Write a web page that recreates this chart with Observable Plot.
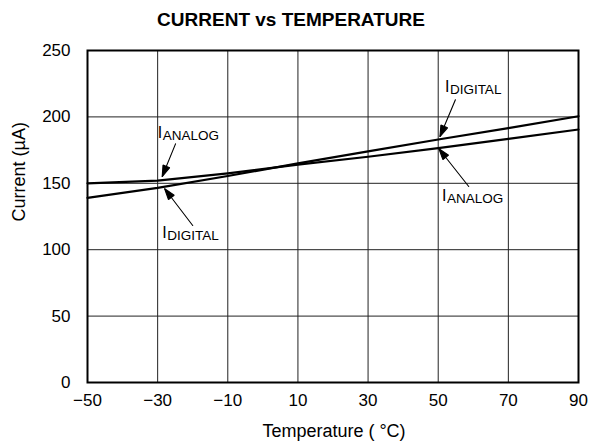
<!DOCTYPE html>
<html>
<head>
<meta charset="utf-8">
<script src="https://cdn.jsdelivr.net/npm/d3@7"></script>
<script src="https://cdn.jsdelivr.net/npm/@observablehq/plot@0.6"></script>
<style>
  html, body { margin: 0; padding: 0; background: #fff; }
  #chart { width: 590px; height: 445px; }
</style>
</head>
<body>
<div id="chart"></div>
<script>
// ---- data ----
const temperatures = [-50, -30, -10, 10, 30, 50, 70, 90];
const iAnalog  = [150, 152, 157.5, 164, 170, 176.5, 183.5, 190.5];
const iDigital = [139, 146.5, 155.5, 165, 174, 183, 191.5, 200.5];

const xTicks = [-50, -30, -10, 10, 30, 50, 70, 90];
const yTicks = [0, 50, 100, 150, 200, 250];

// annotation labels ("I" + subscript) and arrows (tail -> tip)
const labelMain = ["I", "I", "I", "I"];
const labelSub  = ["ANALOG", "DIGITAL", "DIGITAL", "ANALOG"];
const labelX    = [-30.0, -28.7, 51.9, 51.1];
const labelY    = [184.3, 109.0, 219.1, 137.0];

const arrowX1 = [-24.9, -20.0, 54.9, 58.7];
const arrowY1 = [179.7, 118.2, 212.9, 147.6];
const arrowX2 = [-28.7, -28.0, 50.5, 50.2];
const arrowY2 = [155.1, 145.9, 185.2, 176.0];

const titleText = "CURRENT vs TEMPERATURE";
const xLabel = "Temperature ( °C)";
const yLabel = "Current (µA)";

// ---- tables built from the arrays ----
const series = [
  ...temperatures.map((t, i) => ({t, v: iAnalog[i], s: "analog"})),
  ...temperatures.map((t, i) => ({t, v: iDigital[i], s: "digital"}))
];
const labels = labelMain.map((m, i) => ({m, sub: labelSub[i], x: labelX[i], y: labelY[i]}));
const arrows = arrowX1.map((x1, i) => ({x1, y1: arrowY1[i], x2: arrowX2[i], y2: arrowY2[i]}));

const font = "Arial, 'Liberation Sans', Helvetica, sans-serif";

function filledHeads(index, scales, values, dimensions, context, next) {
  const g = next(index, scales, values, dimensions, context);
  const L = 11, W = 3.6;
  for (const i of index) {
    const x1 = values.x1[i], y1 = values.y1[i], x2 = values.x2[i], y2 = values.y2[i];
    const dx = x2 - x1, dy = y2 - y1, len = Math.hypot(dx, dy);
    const ux = dx / len, uy = dy / len;
    const bx = x2 - ux * L, by = y2 - uy * L;
    const p = document.createElementNS("http://www.w3.org/2000/svg", "polygon");
    p.setAttribute("points", `${x2},${y2} ${bx - uy * W},${by + ux * W} ${bx + uy * W},${by - ux * W}`);
    p.setAttribute("fill", "black");
    g.appendChild(p);
  }
  return g;
}

const chart = Plot.plot({
  width: 590,
  height: 445,
  marginLeft: 87,
  marginRight: 12,
  marginTop: 50,
  marginBottom: 63,
  style: {fontFamily: font, background: "white", color: "black"},
  x: {domain: [-50, 90], ticks: xTicks},
  y: {domain: [0, 250], ticks: yTicks},
  marks: [
    Plot.gridX(xTicks, {stroke: "#222", strokeOpacity: 1, strokeWidth: 1}),
    Plot.gridY(yTicks, {stroke: "#222", strokeOpacity: 1, strokeWidth: 1}),
    Plot.axisX(xTicks, {tickSize: 0, tickPadding: 11, fontSize: 17, label: null}),
    Plot.axisY(yTicks, {tickSize: 0, tickPadding: 17, fontSize: 17, label: null}),
    Plot.line(series, {x: "t", y: "v", z: "s", stroke: "black", strokeWidth: 2.2}),
    Plot.arrow(arrows, {x1: "x1", y1: "y1", x2: "x2", y2: "y2", stroke: "black", strokeWidth: 1.1, headLength: 0, render: filledHeads}),
    Plot.text(labels, {x: "x", y: "y", text: "m", textAnchor: "start", lineAnchor: "bottom", fontSize: 16, fill: "black"}),
    Plot.text(labels, {x: "x", y: "y", text: "sub", textAnchor: "start", lineAnchor: "bottom", fontSize: 13.5, dx: 5, dy: 2, fill: "black"}),
    Plot.frame({stroke: "black", strokeWidth: 2}),
    Plot.text([titleText], {frameAnchor: "top", text: d => d, dx: -42, dy: -25, lineAnchor: "bottom", fontSize: 19, fontWeight: "bold", fill: "black"}),
    Plot.text([xLabel], {frameAnchor: "bottom", text: d => d, dx: 1, dy: 49, lineAnchor: "middle", fontSize: 18, fill: "black"}),
    Plot.text([yLabel], {frameAnchor: "left", text: d => d, dx: -68.5, dy: 5, rotate: -90, lineAnchor: "middle", fontSize: 18, fill: "black"})
  ]
});
document.getElementById("chart").appendChild(chart);
</script>
</body>
</html>
